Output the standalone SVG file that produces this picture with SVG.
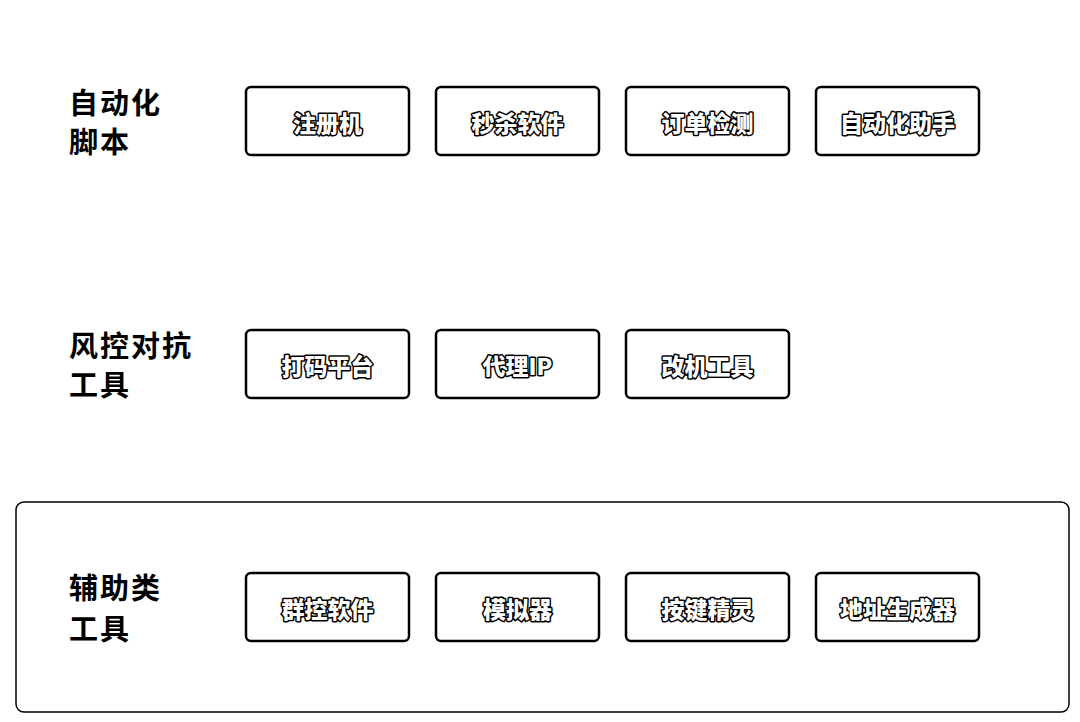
<svg xmlns="http://www.w3.org/2000/svg" width="1080" height="722" viewBox="0 0 1080 722">
  <style>
    .bg { fill: #ffffff; }
    .group { fill: none; stroke: #000; stroke-width: 1.5; }
    .box { fill: #ffffff; stroke: #000; stroke-width: 2.5; }
    .label { font-family: "Noto Sans CJK SC", "Noto Sans", sans-serif; font-size: 29px; letter-spacing: 2px; font-weight: 700; fill: #000; }
    .item { font-family: "Noto Sans CJK SC", "Noto Sans", sans-serif; font-size: 23px; font-weight: 900; fill: #fff; stroke: #000; stroke-width: 3; paint-order: stroke; stroke-linejoin: round; text-anchor: middle; dominant-baseline: central; }
  </style>
  <rect class="bg" width="1080" height="722"/>

  <!-- container around the third row -->
  <g id="group-aux">
    <rect class="group" x="16" y="502" width="1053" height="210" rx="8"/>
  </g>

  <!-- row labels -->
  <g id="label-automation">
    <text class="label" x="69" y="114">自动化</text>
    <text class="label" x="69" y="153">脚本</text>
  </g>
  <g id="label-risk">
    <text class="label" x="69" y="357">风控对抗</text>
    <text class="label" x="69" y="396">工具</text>
  </g>
  <g id="label-aux">
    <text class="label" x="69" y="599">辅助类</text>
    <text class="label" x="69" y="640">工具</text>
  </g>

  <!-- row 1 -->
  <g id="n-register"><rect class="box" x="246" y="87" width="163" height="68" rx="5"/><text class="item" x="327.5" y="122">注册机</text></g>
  <g id="n-seckill"><rect class="box" x="436" y="87" width="163" height="68" rx="5"/><text class="item" x="517.5" y="122">秒杀软件</text></g>
  <g id="n-order"><rect class="box" x="626" y="87" width="163" height="68" rx="5"/><text class="item" x="707.5" y="122">订单检测</text></g>
  <g id="n-assistant"><rect class="box" x="816" y="87" width="163" height="68" rx="5"/><text class="item" x="897.5" y="122">自动化助手</text></g>

  <!-- row 2 -->
  <g id="n-captcha"><rect class="box" x="246" y="330" width="163" height="68" rx="5"/><text class="item" x="327.5" y="365">打码平台</text></g>
  <g id="n-proxy"><rect class="box" x="436" y="330" width="163" height="68" rx="5"/><text class="item" x="517.5" y="365">代理IP</text></g>
  <g id="n-device"><rect class="box" x="626" y="330" width="163" height="68" rx="5"/><text class="item" x="707.5" y="365">改机工具</text></g>

  <!-- row 3 -->
  <g id="n-groupctl"><rect class="box" x="246" y="573" width="163" height="68" rx="5"/><text class="item" x="327.5" y="608">群控软件</text></g>
  <g id="n-emulator"><rect class="box" x="436" y="573" width="163" height="68" rx="5"/><text class="item" x="517.5" y="608">模拟器</text></g>
  <g id="n-keysprite"><rect class="box" x="626" y="573" width="163" height="68" rx="5"/><text class="item" x="707.5" y="608">按键精灵</text></g>
  <g id="n-address"><rect class="box" x="816" y="573" width="163" height="68" rx="5"/><text class="item" x="897.5" y="608">地址生成器</text></g>

  <g id="connectors"></g>
</svg>
